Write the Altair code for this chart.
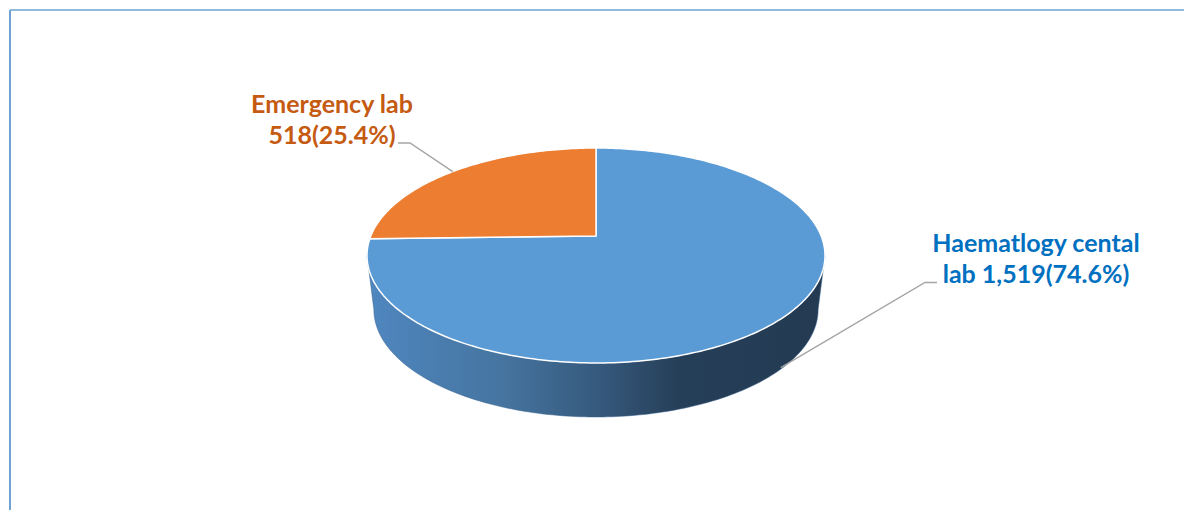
import math
import textwrap
import numpy as np
import pandas as pd
import altair as alt

# ---- data ----
CATEGORIES = ["Haematlogy cental lab", "Emergency lab"]
VALUES = [1519, 518]
TOP_COLORS = ["#5B9BD5", "#ED7D31"]
LABEL_COLORS = ["#0070C0", "#C55A11"]

# ---- layout (page pixels) ----
W, H = 1176, 502
CX, CY = 596, 236          # projected pie centre
RX, RY = 225.2, 103.96     # projected radii factors
PERSP = 0.1814             # perspective factor
DEPTH = 54                 # thickness of the pie
BOTTOM_SHRINK = 0.97
LABEL_POS = {"Haematlogy cental lab": (1036, 252), "Emergency lab": (332, 113)}
LINE_GAP = 31
LEADER_END = {"Haematlogy cental lab": (937, 282.5, 1), "Emergency lab": (398, 143, -1)}
FONT = "Lato"


def proj(phi, shrink=1.0, dy=0.0):
    r = math.radians(phi)
    u, v = math.sin(r), math.cos(r)
    w = 1 + PERSP * v
    return CX + RX * shrink * u / w, CY - RY * v / w + dy


total = sum(VALUES)
phi_l = 180 - math.degrees(math.acos(PERSP))   # front visible range
phi_r = 180 + math.degrees(math.acos(PERSP))

slice_rows, side_rows, leader_rows, text_rows = [], [], [], []
cum = 0.0
for cat, val in zip(CATEGORIES, VALUES):
    start = cum / total * 360
    end = (cum + val) / total * 360
    cum += val
    n = max(int(end - start) + 1, 2)
    slice_rows.append({"cat": cat, "o": 0, "x": CX, "y": CY})
    for k, p in enumerate(np.linspace(start, end, n)):
        x, y = proj(p)
        slice_rows.append({"cat": cat, "o": k + 1, "x": x, "y": y})
    lo, hi = max(start, phi_l), min(end, phi_r)
    if hi > lo:
        m = max(int(hi - lo) + 1, 2)
        o = 0
        for p in np.linspace(lo, hi, m):
            x, y = proj(p)
            side_rows.append({"cat": cat, "o": o, "x": x, "y": y}); o += 1
        for p in np.linspace(hi, lo, m):
            x, y = proj(p, BOTTOM_SHRINK, DEPTH)
            side_rows.append({"cat": cat, "o": o, "x": x, "y": y}); o += 1
    mid = (start + end) / 2
    mx, my = proj(mid)
    if phi_l <= mid <= phi_r:
        my += DEPTH * 0.9
    ex, ey, sgn = LEADER_END[cat]
    leader_rows += [
        {"cat": cat, "o": 0, "x": mx, "y": my},
        {"cat": cat, "o": 1, "x": ex - sgn * 12, "y": ey},
        {"cat": cat, "o": 2, "x": ex, "y": ey},
    ]
    pct = val / total * 100
    lines = textwrap.wrap(f"{cat} {val:,}({pct:.1f}%)", 17)
    lx, ly = LABEL_POS[cat]
    for j, t in enumerate(lines):
        text_rows.append({"cat": cat, "x": lx, "y": ly + j * LINE_GAP, "t": t})

slices = pd.DataFrame(slice_rows)
side = pd.DataFrame(side_rows)
leaders = pd.DataFrame(leader_rows)
texts = pd.DataFrame(text_rows)

xs = alt.Scale(domain=[8, 8 + W], range=[0, W])
ys = alt.Scale(domain=[8, 8 + H], range=[0, H])
X = alt.X("x:Q", scale=xs, axis=None)
Y = alt.Y("y:Q", scale=ys, axis=None)

side_grad = alt.Gradient(
    gradient="linear",
    x1=0, x2=1, y1=0, y2=0,
    stops=[
        alt.GradientStop(color="#4F87C0", offset=0),
        alt.GradientStop(color="#45749F", offset=0.3),
        alt.GradientStop(color="#365A7E", offset=0.5),
        alt.GradientStop(color="#263F58", offset=0.68),
        alt.GradientStop(color="#233A52", offset=1),
    ],
)

side_layer = alt.Chart(side).mark_line(
    interpolate="linear-closed", fill=side_grad, stroke="#3B6390", strokeWidth=0.5
).encode(x=X, y=Y, detail="cat:N", order="o:Q")

top_layer = alt.Chart(slices).mark_line(
    interpolate="linear-closed", stroke="white", strokeWidth=1.5, strokeJoin="round"
).encode(
    x=X, y=Y, detail="cat:N", order="o:Q",
    fill=alt.Fill("cat:N", scale=alt.Scale(domain=CATEGORIES, range=TOP_COLORS), legend=None),
)

leader_layer = alt.Chart(leaders).mark_line(color="#A5A5A5", strokeWidth=1.4).encode(
    x=X, y=Y, detail="cat:N", order="o:Q"
)

text_layer = alt.Chart(texts).mark_text(
    font=FONT, fontWeight="bold", fontSize=25, align="center", baseline="alphabetic"
).encode(
    x=X, y=Y, text="t:N",
    color=alt.Color("cat:N", scale=alt.Scale(domain=CATEGORIES, range=LABEL_COLORS), legend=None),
)

border_top = alt.Chart(pd.DataFrame({"a": [0]})).mark_rule(color="#6FA3D4", strokeWidth=1.5).encode(
    x=alt.value(2), x2=alt.value(W), y=alt.value(2)
)
border_left = alt.Chart(pd.DataFrame({"a": [0]})).mark_rule(color="#6FA3D4", strokeWidth=2).encode(
    x=alt.value(2), y=alt.value(2), y2=alt.value(H)
)

chart = alt.layer(
    side_layer, top_layer, leader_layer, text_layer, border_top, border_left
).properties(
    width=W, height=H, padding=0, autosize=alt.AutoSizeParams(type="none")
).configure_view(stroke=None)

chart.save("out.html", embed_options={"renderer": "svg", "actions": False})
